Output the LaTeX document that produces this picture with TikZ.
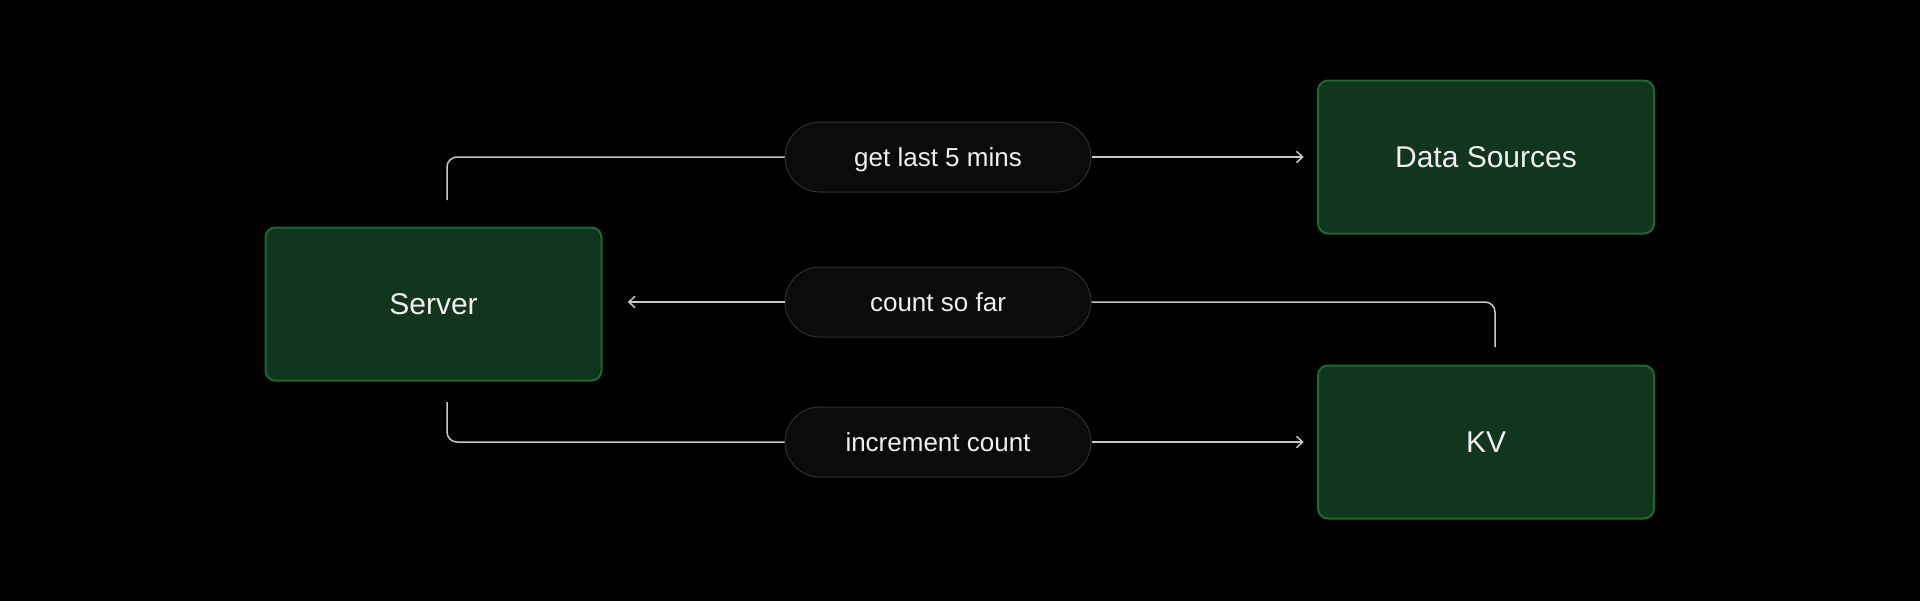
\documentclass[tikz,border=0pt]{standalone}
\usepackage{fontspec}
\setmainfont{Liberation Sans}
\usetikzlibrary{arrows.meta}
\definecolor{boxfill}{HTML}{12361D}
\definecolor{boxline}{HTML}{1B6B2E}
\definecolor{pillfill}{HTML}{0B0B0B}
\definecolor{pillline}{HTML}{303030}
\definecolor{wire}{HTML}{C8C8C8}
\definecolor{txt}{HTML}{F0F0F0}
\tikzset{
  box/.style={draw=boxline, fill=boxfill, line width=1.5pt, rounded corners=7.5pt,
    minimum width=252pt, minimum height=114.75pt, inner sep=0pt,
    text height=16.1pt, text depth=0pt,
    text=txt, font=\fontsize{22.5pt}{27pt}\selectfont},
  pill/.style={draw=pillline, fill=pillfill, line width=0.75pt, rounded corners=26.25pt,
    minimum width=229.5pt, minimum height=52.5pt, inner sep=0pt,
    text height=14pt, text depth=0pt,
    text=txt, font=\fontsize{19.5pt}{23pt}\selectfont},
  wireline/.style={draw=wire, line width=1.125pt, rounded corners=7.5pt},
  tip/.style={-{Straight Barb[length=4.5pt,width=8.5pt,line width=1.125pt]}}
}
\begin{document}
\begin{tikzpicture}[x=0.75pt,y=-0.75pt]
\useasboundingbox (0,0) rectangle (1920,600);
\fill[black] (-10,-10) rectangle (1930,610);

\node[box] (server) at (433.5,304) {Server};
\node[box] (ds) at (1486,157) {Data Sources};
\node[box] (kv) at (1486,442) {KV};

\node[pill] (p1) at (938,157) {get last 5 mins};
\node[pill] (p2) at (938,302) {count so far};
\node[pill] (p3) at (938,442) {increment count};

\coordinate (s1) at (447,200);
\coordinate (s2) at (447,402);
\coordinate (k1) at (1495,347);

\draw[wireline] (s1) |- (p1.west);
\draw[wireline,tip,shorten >=10pt] (p1.east) -- (ds.west);

\draw[wireline] (k1) |- (p2.east);
\draw[wireline,tip,shorten >=19pt] (p2.west) -- (server.east |- p2.west);

\draw[wireline] (s2) |- (p3.west);
\draw[wireline,tip,shorten >=10pt] (p3.east) -- (kv.west);
\end{tikzpicture}
\end{document}
